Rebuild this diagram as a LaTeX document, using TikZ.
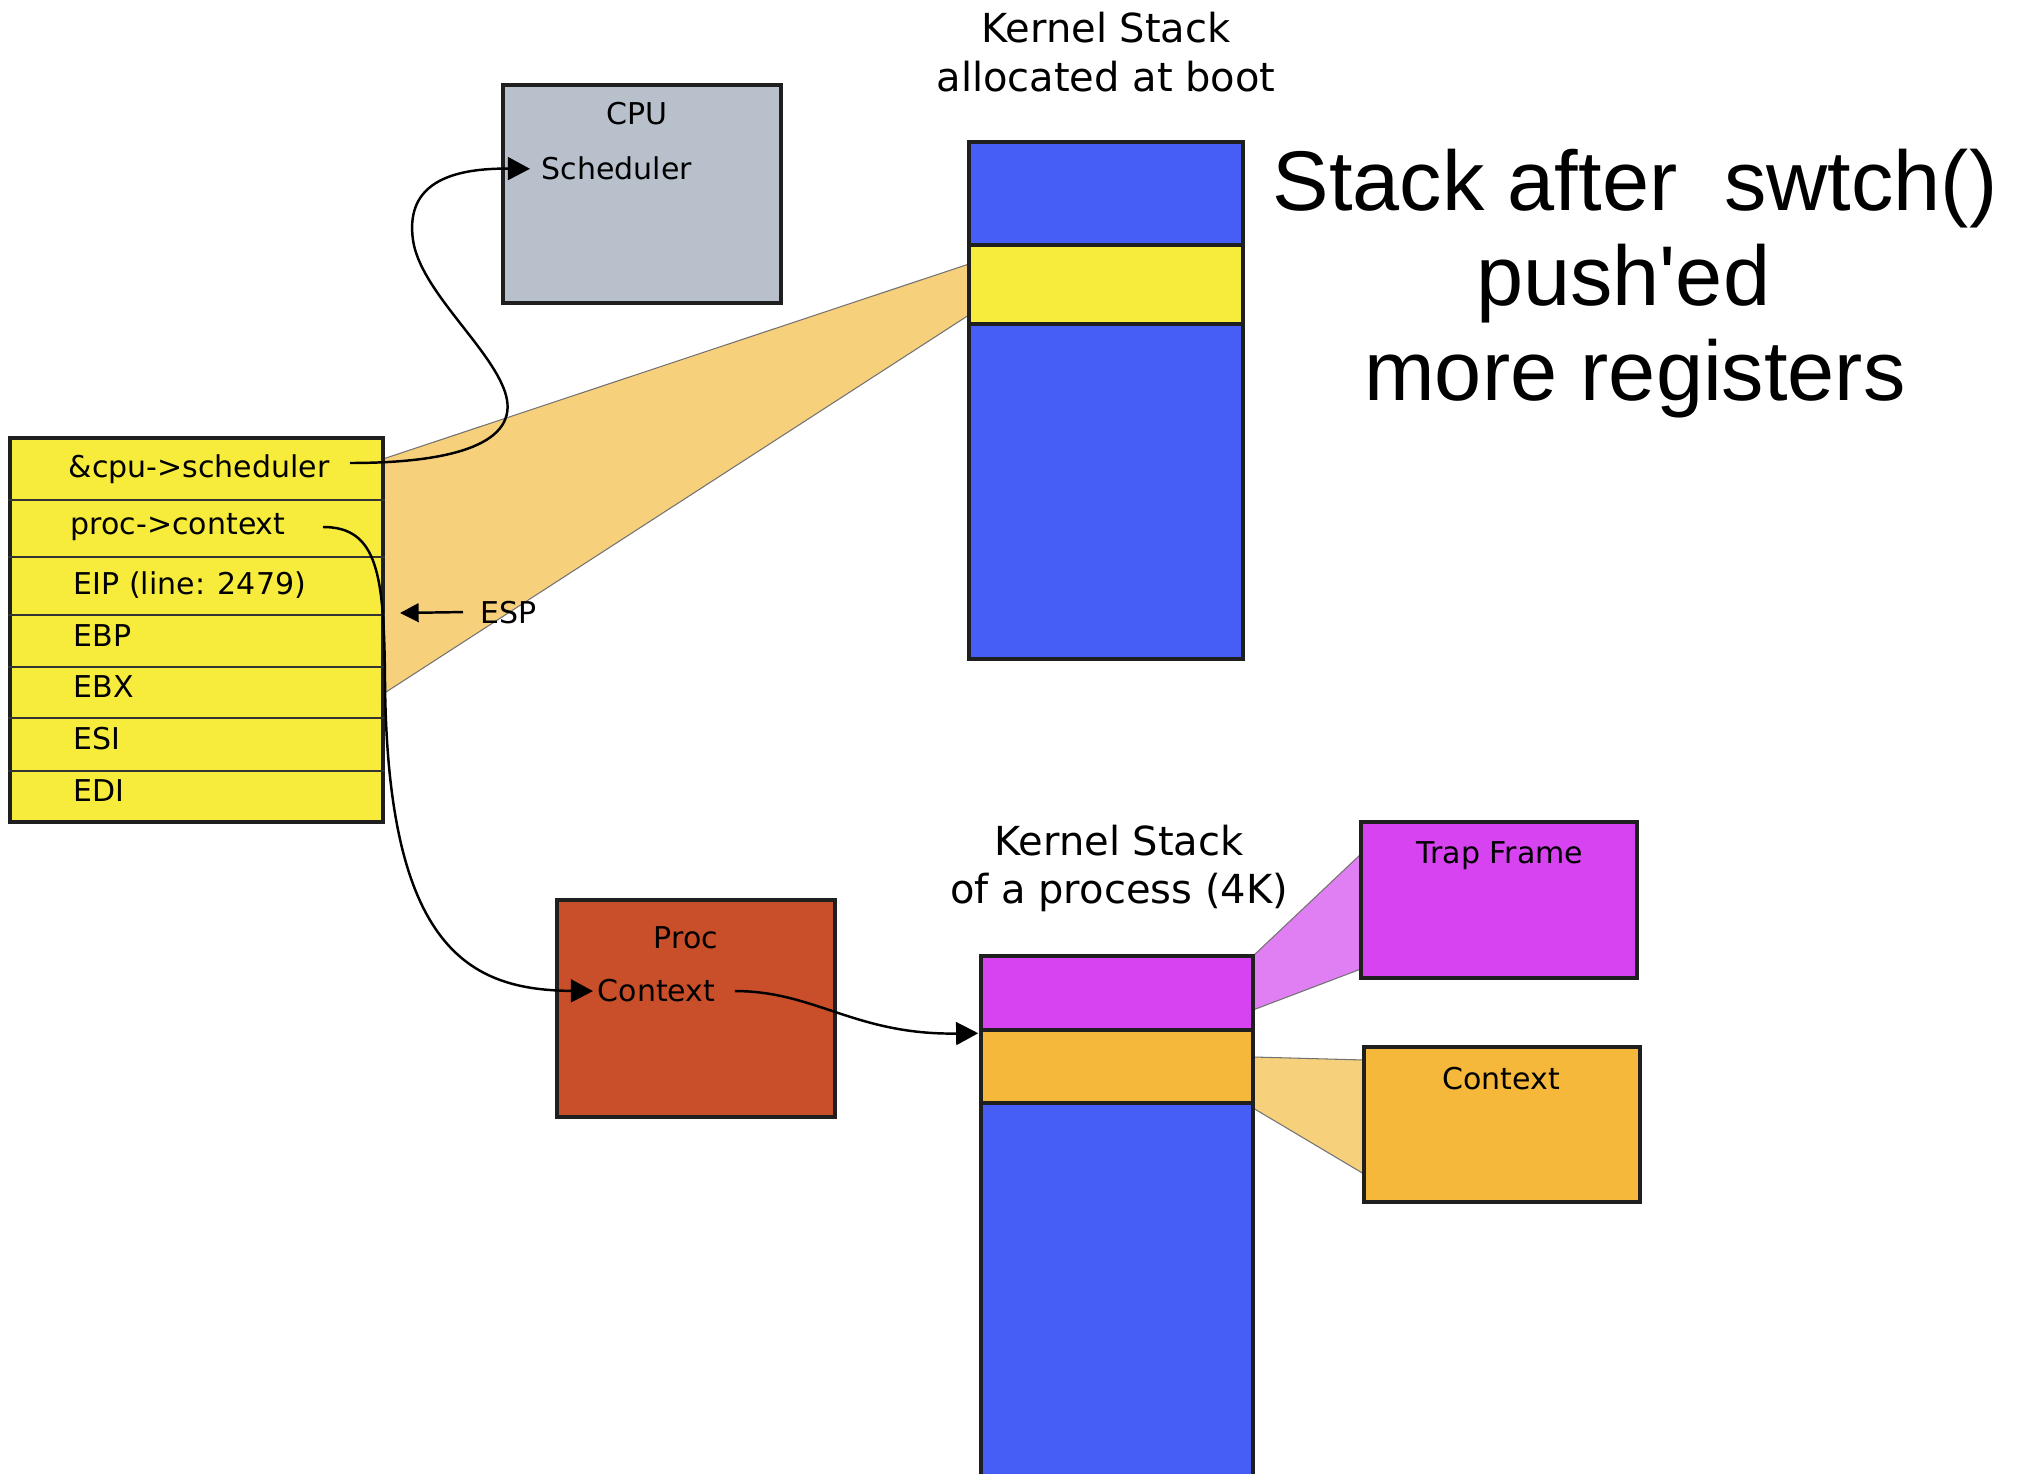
\documentclass[tikz,border=0pt]{standalone}
\usepackage{fontspec}
\newfontfamily\dv{DejaVu Sans}
\newfontfamily\lib{Liberation Sans}
\usetikzlibrary{fit,arrows.meta}
\definecolor{regyellow}{HTML}{F7EC3B}
\definecolor{tanfill}{HTML}{F7D07C}
\definecolor{stackblue}{HTML}{465EF5}
\definecolor{cpugray}{HTML}{B8C0CC}
\definecolor{procred}{HTML}{C94F2A}
\definecolor{magentaA}{HTML}{D743F0}
\definecolor{magentaL}{HTML}{E07FF3}
\definecolor{ctxorange}{HTML}{F5B83B}
\newcommand\twolines[2]{\begin{tabular}[t]{@{}c@{}}#1\\#2\end{tabular}}
\begin{document}
\begin{tikzpicture}[x=0.1mm,y=-0.1mm,
  box/.style={draw=black!88, line width=1pt, inner sep=0pt},
  txt/.style={font=\dv\fontsize{8.54}{10.2}\selectfont, inner sep=0pt},
  big/.style={font=\dv\fontsize{11.38}{13.94}\selectfont, inner sep=0pt},
  trap/.style={draw=black!55, line width=0.3pt},
  link/.style={line width=0.7pt, -{Triangle[length=6.3pt,width=6.5pt]}},
  smalllink/.style={line width=0.7pt, -{Triangle[length=5.3pt,width=5.3pt]}},
]
\clip (0,0) rectangle (2023,1474);
\fill[white] (0,0) rectangle (2023,1474);

% fans
\filldraw[fill=tanfill,trap] (383,459) -- (969,264) -- (969,315) -- (383,694) -- cycle;
\filldraw[fill=magentaL,trap] (1253,956) -- (1361,854) -- (1361,969) -- (1253,1010) -- cycle;
\filldraw[fill=tanfill,trap] (1253,1057) -- (1364,1060) -- (1364,1174) -- (1253,1108) -- cycle;

% register block
\node[box, fill=regyellow, fit={(10,438)(383,822)}] (regs) {};
\foreach \yy in {500,557,615,667,718,771}
  \draw[line width=0.4pt, black!80] (regs.west |- 0,\yy) -- (regs.east |- 0,\yy);
\node[txt, anchor=base west] (r1) at (68,478) {\&cpu->scheduler};
\node[txt, anchor=base west] (r2) at (70,535) {proc->context};
\node[txt, anchor=base west] (r3) at (73,595) {EIP (line: 2479)};
\node[txt, anchor=base west] (r4) at (73,647) {EBP};
\node[txt, anchor=base west] (r5) at (73,698) {EBX};
\node[txt, anchor=base west] (r6) at (73,750) {ESI};
\node[txt, anchor=base west] (r7) at (73,802) {EDI};
\node[txt, anchor=base west] (esp) at (480,623) {ESP};
\coordinate (espTip) at (400,613);

% CPU
\node[box, fill=cpugray, fit={(503,85)(781,303)}] (cpu) {};
\node[txt, anchor=base] (cpulbl) at (637,125) {CPU};
\node[txt, anchor=base west] (sched) at (541,180) {Scheduler};

% boot kernel stack
\node[big, anchor=base] (bootlbl) at (1106,43) {\twolines{Kernel Stack}{allocated at boot}};
\node[box, fill=stackblue, fit={(969,142)(1243,659)}] (bootstack) {};
\node[box, fill=regyellow, fit={(969,245)(1243,324)}] (bootband) {};

% title
\node[font=\lib\fontsize{24.1}{27}\selectfont, inner sep=0pt, anchor=base] (title) at (1635,211)
  {\begin{tabular}[t]{@{}c@{}}Stack after\ \ swtch()\\push'ed\hbox to 0.28em{\hss}\\more registers\end{tabular}};

% Proc
\node[box, fill=procred, fit={(557,900)(835,1117)}] (proc) {};
\node[txt, anchor=base] (proclbl) at (686,949) {Proc};
\node[txt, anchor=base west] (ctxp) at (597,1002) {Context};

% process kernel stack
\node[big, anchor=base] (pstacklbl) at (1119,855) {\twolines{Kernel Stack}{of a process (4K)}};
\node[box, fill=stackblue, fit={(981,956)(1253,1490)}] (pstack) {};
\node[box, fill=magentaA, fit={(981,956)(1253,1030)}] (ptrap) {};
\node[box, fill=ctxorange, fit={(981,1030)(1253,1103)}] (pctx) {};

% Trap frame and context boxes
\node[box, fill=magentaA, fit={(1361,822)(1637,978)}] (trapbox) {};
\node[txt, anchor=base] (traplbl) at (1500,864) {Trap Frame};
\node[box, fill=ctxorange, fit={(1364,1047)(1640,1202)}] (ctxbox) {};
\node[txt, anchor=base] (ctxlbl) at (1501,1089) {Context};

% connectors
\coordinate (s0) at (350,463);
\draw[link] (s0) .. controls (470,463) and (520,437) .. (505,392)
  .. controls (490,347) and (420,290) .. (413,240)
  .. controls (406,190) and (440,168) .. ([xshift=-1.1mm]sched.west);
\coordinate (p0) at (323,527);
\draw[link] (p0) .. controls (378,527) and (384,575) .. (385,680)
  .. controls (387,950) and (470,990) .. ([xshift=-0.4mm]ctxp.west);
\draw[link] ([xshift=1.9mm]ctxp.east) .. controls (815,991) and (855,1035) .. ([xshift=-0.1mm,yshift=-0.5mm]pctx.north west);
\draw[smalllink] ([xshift=-1.7mm]esp.west) -- (espTip);
\end{tikzpicture}
\end{document}
